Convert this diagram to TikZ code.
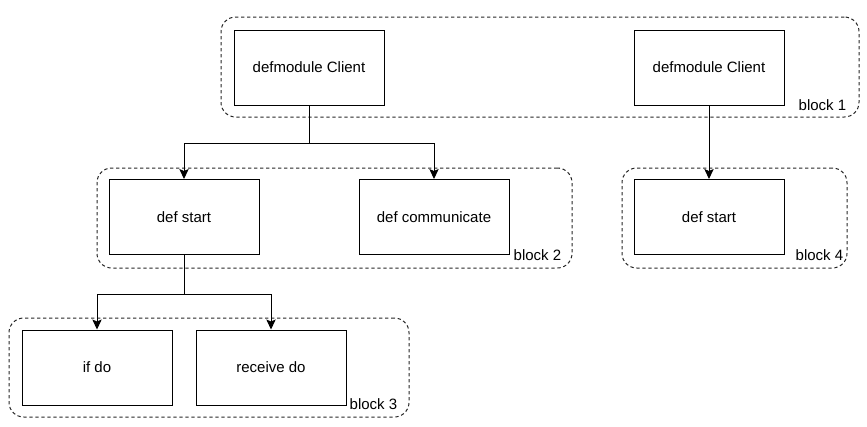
\documentclass[tikz,border=0pt]{standalone}
\usepackage{fontspec}
\setmainfont{Liberation Sans}
\usetikzlibrary{arrows.meta}
\begin{document}
\begin{tikzpicture}[x=0.75pt,y=-0.75pt,
  box/.style={draw=black, line width=0.75pt, fill=white, minimum width=112.5pt, minimum height=56.25pt, inner sep=0pt, font=\fontsize{11.25}{13.5}\selectfont},
  blockbox/.style={draw=black!85, line width=0.75pt, dash pattern=on 2.5pt off 2pt, rounded corners=11pt, inner sep=0pt},
  blocklabel/.style={anchor=base east, inner sep=0pt, font=\fontsize{11.25}{13.5}\selectfont},
  arr/.style={draw=black, line width=0.75pt, -{Stealth[length=7.5pt,width=7pt,inset=1.5pt]}},
  ln/.style={draw=black, line width=0.75pt}]
\useasboundingbox (0,0) rectangle (867,426);
% blocks
\node[blockbox, minimum width=478.5pt, minimum height=75pt] (b1) at (540,67) {};
\node[blockbox, minimum width=356.25pt, minimum height=75pt] (b2) at (334.5,218) {};
\node[blockbox, minimum width=168.75pt, minimum height=75pt] (b4) at (734.5,218) {};
\node[blockbox, minimum width=300pt, minimum height=74.25pt] (b3) at (209,367.5) {};
% boxes
\node[box] (c1) at (309,67.5) {defmodule Client};
\node[box] (c2) at (709,67.5) {defmodule Client};
\node[box] (s1) at (184,217) {def start};
\node[box] (comm) at (434,217) {def communicate};
\node[box] (s2) at (709,217) {def start};
\node[box] (ifdo) at (97,367.5) {if do};
\node[box] (recv) at (271,367.5) {receive do};
% labels
\node[blocklabel] (l1) at ([xshift=-9.75pt,yshift=5.25pt]b1.south east) {block 1};
\node[blocklabel] (l2) at ([xshift=-8.25pt,yshift=6pt]b2.south east) {block 2};
\node[blocklabel] (l3) at ([xshift=-9pt,yshift=6pt]b3.south east) {block 3};
\node[blocklabel] (l4) at ([xshift=-3pt,yshift=6pt]b4.south east) {block 4};
% connectors
\draw[arr] (c1.south) -- ++(0,38) -| (s1.north);
\draw[arr] (c1.south) -- ++(0,38) -| (comm.north);
\draw[arr] (s1.south) -- ++(0,39) -| (ifdo.north);
\draw[arr] (s1.south) -- ++(0,39) -| (recv.north);
\draw[arr] (c2.south) -- (s2.north);
\end{tikzpicture}
\end{document}
